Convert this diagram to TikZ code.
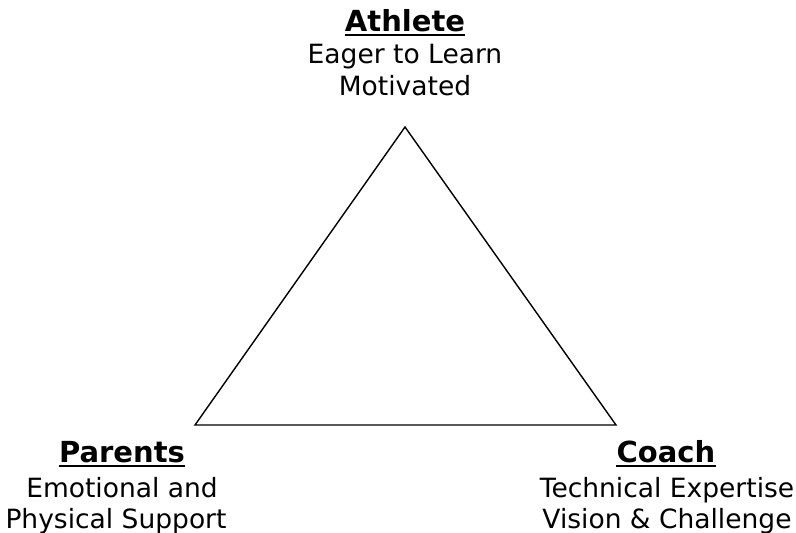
\documentclass[tikz,border=0pt]{standalone}
\usepackage{fontspec}
\setmainfont{DejaVu Sans}
\begin{document}
\begin{tikzpicture}[x=1pt,y=-1pt,
  title/.style={font=\fontsize{29}{32}\selectfont\bfseries, inner sep=0pt, anchor=base},
  desc/.style={font=\fontsize{26.5}{32}\selectfont, inner sep=0pt, anchor=base},
  uline/.style={line width=2pt},
  edge/.style={line width=1.4pt, line join=miter}]
\useasboundingbox[fill=white] (0,0) rectangle (796,533);

% corners of the triangle
\coordinate (top) at (405,127);
\coordinate (left) at (195,425);
\coordinate (right) at (616,425);
\draw[edge] (top) -- (left) -- (right) -- cycle;

% Athlete
\node[title] (athlete) at (405,31) {Athlete};
\draw[uline] ([yshift=-3.5pt]athlete.base west) -- ([yshift=-3.5pt]athlete.base east);
\node[desc] (athleteA) at (405,63) {Eager to Learn};
\node[desc] (athleteB) at (405,95) {Motivated};

% Parents
\node[title] (parents) at (122,462) {Parents};
\draw[uline] ([yshift=-3.5pt]parents.base west) -- ([yshift=-3.5pt]parents.base east);
\node[desc] (parentsA) at (122,497) {Emotional and};
\node[desc] (parentsB) at (116,528) {Physical Support};

% Coach
\node[title] (coach) at (666,462) {Coach};
\draw[uline] ([yshift=-3.5pt]coach.base west) -- ([yshift=-3.5pt]coach.base east);
\node[desc] (coachA) at (667,497) {Technical Expertise};
\node[desc] (coachB) at (667,528) {Vision \& Challenge};
\end{tikzpicture}
\end{document}
